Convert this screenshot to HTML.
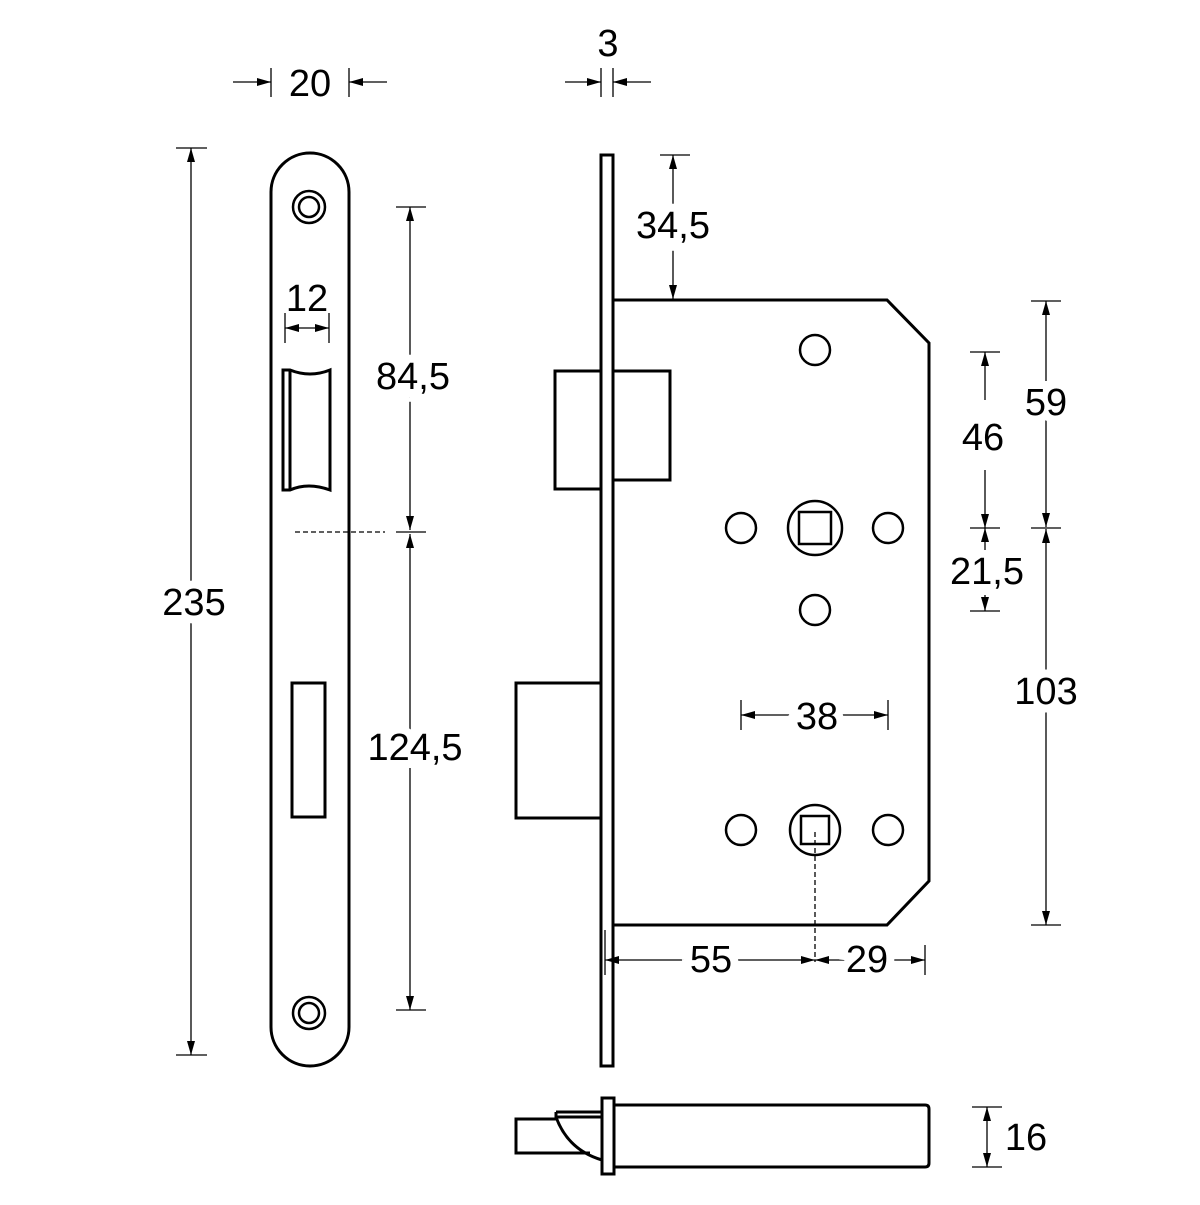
<!DOCTYPE html>
<html><head><style>html,body{margin:0;padding:0;background:#fff}</style></head><body>
<svg width="1200" height="1200" viewBox="0 0 1200 1200" xmlns="http://www.w3.org/2000/svg">
<defs>
<marker id="a" viewBox="0 0 14 8" refX="14" refY="4" markerWidth="14" markerHeight="8" markerUnits="userSpaceOnUse" orient="auto-start-reverse"><path d="M0,0L14,4L0,8z" fill="#000"/></marker>
</defs>
<style>
.s{fill:none;stroke:#000;stroke-width:3}
.t{stroke:#000;stroke-width:1.3;fill:none}
.d{stroke:#000;stroke-width:1.3;fill:none;marker-end:url(#a)}
.dd{stroke:#000;stroke-width:1.3;fill:none;marker-end:url(#a);marker-start:url(#a)}
text{font-family:"Liberation Sans",sans-serif;font-size:38px;text-anchor:middle;dominant-baseline:central;paint-order:stroke;stroke:#fff;stroke-width:16px;fill:#000}
</style>
<rect class="s" x="271" y="153" width="78" height="913" rx="39" ry="39"/>
<circle class="s" cx="309" cy="207" r="16" style="stroke-width:2.5"/><circle class="s" cx="309" cy="207" r="10" style="stroke-width:2.5"/>
<circle class="s" cx="309" cy="1013" r="16" style="stroke-width:2.5"/><circle class="s" cx="309" cy="1013" r="10" style="stroke-width:2.5"/>
<path class="s" d="M283,370 L283,490 L290,490 Q308,482 330,490 L330,370 Q310,378 290,370 Z M290,370 L290,490"/>
<rect class="s" x="292" y="683" width="33" height="134"/>
<line x1="295" y1="532" x2="385" y2="532" stroke="#000" stroke-width="1.3" stroke-dasharray="5,3"/>
<line class="t" x1="271" y1="68" x2="271" y2="97"/><line class="t" x1="349" y1="68" x2="349" y2="97"/>
<line class="d" x1="233" y1="82" x2="271" y2="82"/><line class="d" x1="387" y1="82" x2="349" y2="82"/>
<text x="310" y="84">20</text>
<line class="t" x1="176" y1="148" x2="207" y2="148"/><line class="t" x1="176" y1="1055" x2="207" y2="1055"/>
<line class="dd" x1="191" y1="148" x2="191" y2="1055"/>
<text x="194" y="603">235</text>
<line class="t" x1="285" y1="313" x2="285" y2="343"/><line class="t" x1="329" y1="313" x2="329" y2="343"/>
<line class="dd" x1="285" y1="328" x2="329" y2="328"/>
<text x="307" y="299" style="stroke-width:0">12</text>
<line class="t" x1="396" y1="207" x2="426" y2="207"/><line class="t" x1="396" y1="532" x2="426" y2="532"/><line class="t" x1="396" y1="1010" x2="426" y2="1010"/>
<line class="dd" x1="410" y1="207" x2="410" y2="530"/>
<line class="dd" x1="410" y1="534" x2="410" y2="1010"/>
<text x="413" y="377">84,5</text>
<text x="415" y="748">124,5</text>
<path class="s" d="M613,300 L887,300 L929,343 L929,881 L887,925 L613,925"/>
<rect class="s" x="601" y="155" width="12" height="911"/>
<path class="s" d="M601,371 L555,371 L555,489 L601,489 M613,371 L670,371 L670,480 L613,480"/>
<path class="s" d="M601,683 L516,683 L516,818 L601,818"/>
<circle class="s" cx="815" cy="350" r="15" style="stroke-width:2.5"/>
<circle class="s" cx="741" cy="528" r="15" style="stroke-width:2.5"/>
<circle class="s" cx="888" cy="528" r="15" style="stroke-width:2.5"/>
<circle class="s" cx="815" cy="528" r="27" style="stroke-width:2.5"/>
<rect class="s" x="799" y="512" width="32" height="32" style="stroke-width:2.5"/>
<circle class="s" cx="815" cy="610" r="15" style="stroke-width:2.5"/>
<circle class="s" cx="741" cy="830" r="15" style="stroke-width:2.5"/>
<circle class="s" cx="888" cy="830" r="15" style="stroke-width:2.5"/>
<circle class="s" cx="815" cy="830" r="25" style="stroke-width:2.5"/>
<rect class="s" x="801" y="816" width="28" height="28" style="stroke-width:2.5"/>
<line x1="815" y1="832" x2="815" y2="962" stroke="#000" stroke-width="1.3" stroke-dasharray="5,3"/>
<line class="t" x1="601" y1="68" x2="601" y2="97"/><line class="t" x1="613" y1="68" x2="613" y2="97"/>
<line class="d" x1="565" y1="82" x2="601" y2="82"/><line class="d" x1="651" y1="82" x2="613" y2="82"/>
<text x="608" y="44">3</text>
<line class="t" x1="660" y1="155" x2="690" y2="155"/>
<line class="dd" x1="673" y1="155" x2="673" y2="299"/>
<text x="673" y="226">34,5</text>
<line class="t" x1="970" y1="352" x2="1000" y2="352"/><line class="t" x1="970" y1="528" x2="1000" y2="528"/><line class="t" x1="970" y1="611" x2="1000" y2="611"/>
<line class="d" x1="985" y1="400" x2="985" y2="352"/><line class="d" x1="985" y1="470" x2="985" y2="528"/>
<line class="d" x1="985" y1="550" x2="985" y2="528"/><line class="d" x1="985" y1="595" x2="985" y2="611"/>
<text x="983" y="438" style="stroke-width:0">46</text>
<text x="987" y="572" style="stroke-width:0">21,5</text>
<line class="t" x1="1031" y1="301" x2="1061" y2="301"/><line class="t" x1="1031" y1="528" x2="1061" y2="528"/><line class="t" x1="1031" y1="925" x2="1061" y2="925"/>
<line class="dd" x1="1046" y1="301" x2="1046" y2="527"/>
<line class="dd" x1="1046" y1="529" x2="1046" y2="925"/>
<text x="1046" y="403">59</text>
<text x="1046" y="692">103</text>
<line class="t" x1="741" y1="700" x2="741" y2="730"/><line class="t" x1="888" y1="700" x2="888" y2="730"/>
<line class="dd" x1="741" y1="715" x2="888" y2="715"/>
<text x="817" y="717">38</text>
<line class="t" x1="925" y1="945" x2="925" y2="975"/><line class="t" x1="605" y1="930" x2="605" y2="975"/>
<line class="dd" x1="605" y1="960" x2="815" y2="960"/>
<line class="dd" x1="815" y1="960" x2="925" y2="960"/>
<text x="711" y="960">55</text>
<text x="867" y="960">29</text>
<path class="s" d="M613,1105 L925,1105 Q929,1105 929,1109 L929,1163 Q929,1167 925,1167 L613,1167"/>
<rect class="s" x="602" y="1098" width="12" height="76"/>
<path class="s" d="M556,1112 L602,1112 M556,1112 L556,1117 L602,1117"/>
<path class="s" d="M556,1119 L516,1119 L516,1153 L590,1153"/>
<path class="s" d="M556,1117 Q568,1150 602,1160"/>
<line class="t" x1="972" y1="1107" x2="1002" y2="1107"/><line class="t" x1="972" y1="1167" x2="1002" y2="1167"/>
<line class="dd" x1="987" y1="1107" x2="987" y2="1167"/>
<text x="1026" y="1138">16</text>
</svg>
</body></html>
